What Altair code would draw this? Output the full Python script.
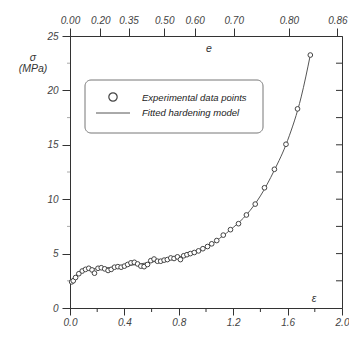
import math
import altair as alt
import pandas as pd

# Experimental data points (true strain, stress MPa)
eps_pts = [0.012, 0.024, 0.041, 0.065, 0.09, 0.114, 0.138, 0.162, 0.18, 0.206, 0.23, 0.255,
           0.28, 0.303, 0.327, 0.352, 0.376, 0.4, 0.424, 0.448, 0.473, 0.497, 0.521, 0.545,
           0.57, 0.594, 0.618, 0.643, 0.667, 0.692, 0.716, 0.741, 0.765, 0.79, 0.812, 0.836,
           0.86, 0.885, 0.914, 0.945, 0.977, 1.011, 1.042, 1.079, 1.127, 1.18, 1.239, 1.297,
           1.362, 1.43, 1.503, 1.588, 1.673, 1.767]
sig_pts = [2.4, 2.5, 2.8, 3.15, 3.4, 3.55, 3.65, 3.5, 3.2, 3.65, 3.7, 3.6,
           3.45, 3.55, 3.75, 3.8, 3.75, 3.85, 4.0, 4.15, 4.2, 4.05, 3.85, 3.8,
           4.0, 4.35, 4.5, 4.3, 4.3, 4.4, 4.45, 4.6, 4.55, 4.7, 4.45, 4.8,
           4.9, 5.0, 5.1, 5.25, 5.45, 5.65, 5.9, 6.2, 6.7, 7.2, 7.75, 8.55,
           9.55, 11.05, 12.75, 15.05, 18.3, 23.25]

# Fitted hardening model curve
eps_fit = [0.0, 0.03, 0.06, 0.1, 0.15, 0.2, 0.3, 0.4, 0.5, 0.6, 0.7, 0.8, 0.9, 1.0,
           1.1, 1.2, 1.3, 1.4, 1.5, 1.6, 1.7, 1.767]
sig_fit = [2.45, 2.85, 3.15, 3.45, 3.58, 3.63, 3.72, 3.85, 4.02, 4.22, 4.43, 4.68, 5.02, 5.55,
           6.4, 7.4, 8.6, 10.3, 12.6, 15.4, 19.4, 23.25]

x_major = [0.0, 0.4, 0.8, 1.2, 1.6, 2.0]
x_minor = [0.2, 0.6, 1.0, 1.4, 1.8]
y_major = [0, 5, 10, 15, 20, 25]
y_minor = [2.5, 7.5, 12.5, 17.5, 22.5]
y_right = [2.5, 5, 7.5, 10, 12.5, 15, 17.5, 20, 22.5]
e_labels = [0.0, 0.20, 0.35, 0.50, 0.60, 0.70, 0.80, 0.86]

W, H = 272, 272
FONT = "Liberation Sans"
AX = "#333333"
LBL = "#444444"

pts = pd.DataFrame({"eps": eps_pts, "sig": sig_pts})
fit = pd.DataFrame({"eps": eps_fit, "sig": sig_fit})

xs = alt.Scale(domain=[0, 2], nice=False, zero=False)
ys = alt.Scale(domain=[0, 25], nice=False, zero=False)

common_axis = dict(labelFont=FONT, labelFontStyle="italic", labelFontSize=10,
                   labelColor=LBL, domainColor=AX, tickColor=AX, grid=False, title=None,
                   labelFlush=False, labelOverlap=False, labelBound=False)

points = alt.Chart(pts).mark_point(shape="circle", size=22, filled=False, fill="white",
                                   fillOpacity=1, stroke="#444444", strokeWidth=1,
                                   opacity=1).encode(
    x=alt.X("eps:Q", scale=xs, axis=alt.Axis(orient="bottom", values=x_major, format=".1f",
                                               tickSize=7, labelPadding=2, **common_axis)),
    y=alt.Y("sig:Q", scale=ys, axis=alt.Axis(orient="left", values=y_major, format="d",
                                               tickSize=8, labelPadding=4, **common_axis)),
)

line = alt.Chart(fit).mark_line(color="#555555", strokeWidth=1, interpolate="monotone").encode(
    x=alt.X("eps:Q", scale=xs,
            axis=alt.Axis(orient="top",
                          values=[-math.log(1 - e) for e in e_labels],
                          labelExpr="format(1 - exp(-datum.value), '.2f')",
                          tickSize=8, labelPadding=3, **common_axis)),
    y=alt.Y("sig:Q", scale=ys, axis=None),
)

xminor = alt.Chart(pd.DataFrame({"v": x_minor})).mark_rule(color=AX, strokeWidth=1).encode(
    x=alt.X("v:Q", scale=xs, axis=None), y=alt.value(H), y2=alt.value(H + 4))
yminor = alt.Chart(pd.DataFrame({"v": y_minor})).mark_rule(color="#aaaaaa", strokeWidth=1).encode(
    y=alt.Y("v:Q", scale=ys, axis=None), x=alt.value(-3), x2=alt.value(0))
yright = alt.Chart(pd.DataFrame({"v": y_right})).mark_rule(color=AX, strokeWidth=1).encode(
    y=alt.Y("v:Q", scale=ys, axis=None), x=alt.value(W - 6), x2=alt.value(W))

# Manual legend box
legend_box = alt.Chart(pd.DataFrame({"a": [0]})).mark_rect(
    fill="white", stroke="#777777", strokeWidth=1, cornerRadius=6).encode(
    x=alt.value(15), x2=alt.value(193), y=alt.value(44), y2=alt.value(97))
legend_sym = alt.Chart(pd.DataFrame({"a": [0]})).mark_point(
    shape="circle", size=70, filled=False, stroke="#444444", strokeWidth=1.2, opacity=1).encode(
    x=alt.value(43), y=alt.value(61))
legend_line = alt.Chart(pd.DataFrame({"a": [0]})).mark_rule(color="#555555", strokeWidth=1).encode(
    x=alt.value(26), x2=alt.value(60), y=alt.value(77))
legend_txt = alt.Chart(pd.DataFrame({
    "t": ["Experimental data points", "Fitted hardening model"],
    "yy": [62, 77]})).mark_text(align="left", baseline="middle", font=FONT, fontStyle="italic",
                                fontSize=9.5, color="#222222").encode(
    text="t:N", x=alt.value(72), y=alt.Y("yy:Q", scale=None, axis=None))

labels = alt.Chart(pd.DataFrame({
    "t": ["σ", "(MPa)", "e", "ε"],
    "px": [-37, -37, 139, 244],
    "py": [22, 33, 13, 263]})).mark_text(align="center", baseline="middle", font=FONT,
                                          fontStyle="italic", fontSize=10.5,
                                          color="#333333").encode(
    text="t:N", x=alt.X("px:Q", scale=None, axis=None), y=alt.Y("py:Q", scale=None, axis=None))

chart = alt.layer(
    legend_box, xminor, yminor, yright, line, points, legend_sym, legend_line, legend_txt, labels
).resolve_scale(x="shared", y="shared").resolve_axis(x="independent", y="independent").properties(
    width=W, height=H,
    autosize=alt.AutoSizeParams(type="none"),
    padding={"left": 62, "top": 28, "right": 7, "bottom": 21},
).configure_view(stroke=AX, strokeWidth=1)

chart.save("out.html", embed_options={"renderer": "svg", "actions": False})
